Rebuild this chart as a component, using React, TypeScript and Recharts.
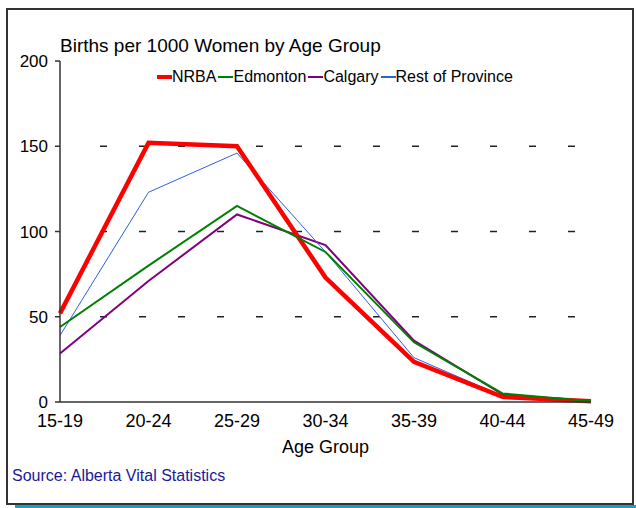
import { LineChart, Line, XAxis, YAxis, CartesianGrid, Label } from "recharts"

const ageGroups = ["15-19", "20-24", "25-29", "30-34", "35-39", "40-44", "45-49"]
const nrba = [52, 152, 150, 73, 23.5, 3, 0.5]
const edmonton = [44, 80, 115, 88, 35, 5, 0.5]
const calgary = [28.5, 71, 110, 92, 36, 4.5, 0.5]
const restOfProvince = [39, 123, 146, 88, 26, 3.5, 0.5]
const yTicks = [0, 50, 100, 150, 200]

const font = "'Liberation Sans', Arial, sans-serif"

const series = [
  { key: "nrba", name: "NRBA", color: "#ff0000", width: 4.5 },
  { key: "edmonton", name: "Edmonton", color: "#008000", width: 2 },
  { key: "calgary", name: "Calgary", color: "#800080", width: 2 },
  { key: "rest", name: "Rest of Province", color: "#2f5fe0", width: 1 },
]
// draw order (last on top)
const drawOrder = ["calgary", "rest", "nrba", "edmonton"]

const data = ageGroups.map((age, i) => ({
  age,
  nrba: nrba[i],
  edmonton: edmonton[i],
  calgary: calgary[i],
  rest: restOfProvince[i],
}))

const GridDash = (props: any) => {
  const { x1, x2, y1, y2, index } = props
  return (
    <line
      key={`grid-${index}`}
      x1={x1 + 40}
      x2={x2}
      y1={y1}
      y2={y2}
      stroke="#222"
      strokeWidth={1.5}
      strokeDasharray="7 32"
    />
  )
}

export default function App() {
  return (
    <div style={{ position: "absolute", left: 0, top: 0, width: 636, height: 508, background: "#fff", fontFamily: font }}>
      <div
        style={{
          position: "absolute",
          left: 6,
          top: 8,
          width: 628,
          height: 497,
          border: "2px solid #333",
          boxSizing: "border-box",
        }}
      />
      <div style={{ position: "absolute", left: 15, top: 505, width: 621, height: 3, background: "#1e9cc4" }} />
      <div style={{ position: "absolute", left: 0, top: 0 }}>
        <LineChart width={636} height={508} data={data} margin={{ top: 61, right: 45, bottom: 0, left: 0 }}>
          <CartesianGrid vertical={false} horizontalValues={[50, 100, 150]} horizontal={GridDash} />
          <XAxis
            dataKey="age"
            interval={0}
            height={106}
            tickLine={false}
            tickSize={0}
            tickMargin={12}
            axisLine={{ stroke: "#333", strokeWidth: 1.5 }}
            tick={{ fontSize: 18, fill: "#000", fontFamily: font }}
          >
            <Label value="Age Group" position="insideTop" offset={38} style={{ fontSize: 18, fill: "#000", fontFamily: font }} />
          </XAxis>
          <XAxis xAxisId="top" dataKey="age" orientation="top" height={0} tick={false} tickLine={false} axisLine={{ stroke: "#333", strokeWidth: 1.5 }} />
          <YAxis
            domain={[0, 200]}
            ticks={yTicks}
            width={60}
            tickSize={5}
            tickMargin={7}
            tickLine={{ stroke: "#333", strokeWidth: 1.5 }}
            axisLine={{ stroke: "#333", strokeWidth: 1.5 }}
            tick={{ fontSize: 17, fill: "#000", fontFamily: font }}
          />
          <YAxis yAxisId="right" orientation="right" domain={[0, 200]} width={0} tick={false} tickLine={false} axisLine={{ stroke: "#333", strokeWidth: 1.5 }} />
          {drawOrder.map((k) => {
            const s = series.find((x) => x.key === k)!
            return (
              <Line
                key={s.key}
                type="linear"
                dataKey={s.key}
                name={s.name}
                stroke={s.color}
                strokeWidth={s.width}
                dot={false}
                activeDot={false}
                isAnimationActive={false}
              />
            )
          })}
        </LineChart>
      </div>
      <div style={{ position: "absolute", left: 60, top: 35, fontSize: 19, lineHeight: "22px", color: "#000", whiteSpace: "nowrap" }}>
        Births per 1000 Women by Age Group
      </div>
      <div style={{ position: "absolute", left: 157, top: 67, display: "flex", alignItems: "center", fontSize: 16, lineHeight: "20px", color: "#000", whiteSpace: "nowrap" }}>
        {series.map((s) => (
          <div key={s.key} style={{ display: "flex", alignItems: "center", marginRight: 2 }}>
            <span style={{ display: "inline-block", width: 15, height: Math.max(s.width, 1.5), background: s.color }} />
            <span>{s.name}</span>
          </div>
        ))}
      </div>
      <div style={{ position: "absolute", left: 12, top: 466, fontSize: 16, lineHeight: "20px", color: "#1a1a99", whiteSpace: "nowrap" }}>
        Source: Alberta Vital Statistics
      </div>
    </div>
  )
}
